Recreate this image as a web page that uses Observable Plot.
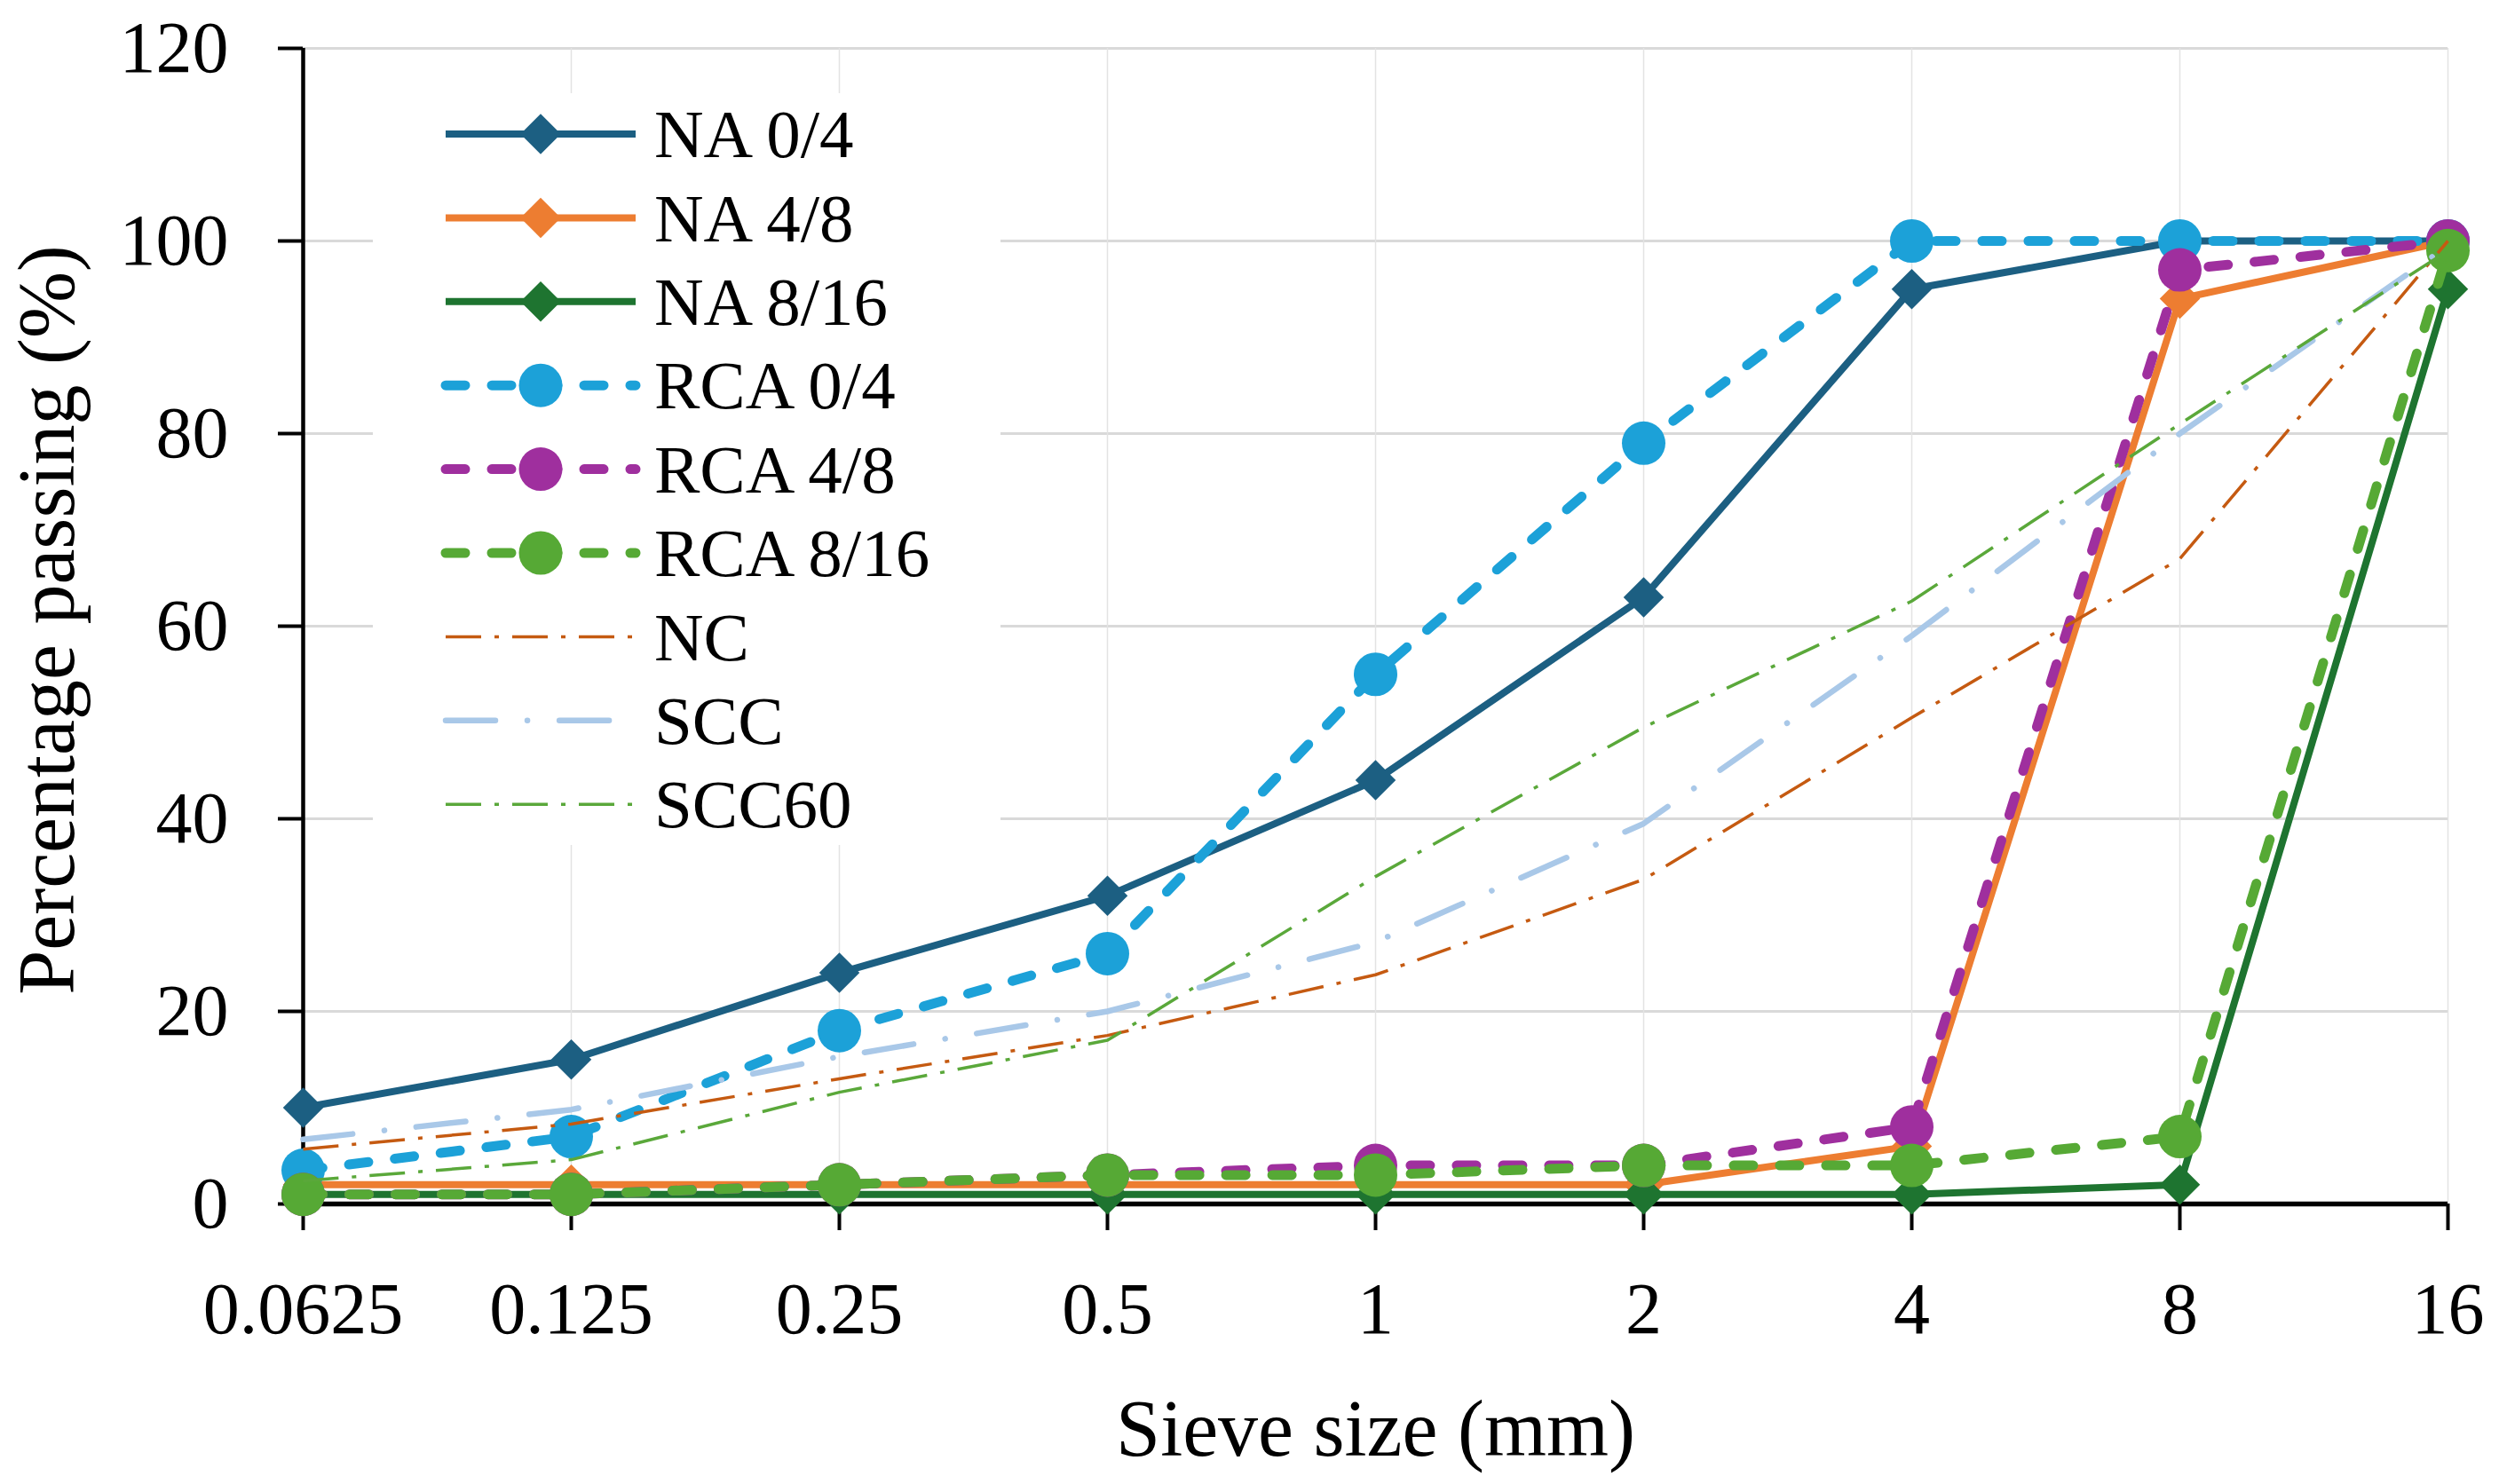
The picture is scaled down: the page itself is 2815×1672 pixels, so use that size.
<!DOCTYPE html>
<html><head><meta charset="utf-8">
<script src="https://cdn.jsdelivr.net/npm/d3@7"></script>
<script src="https://cdn.jsdelivr.net/npm/@observablehq/plot@0.6"></script>
<style>body{margin:0;background:#fff} #chart{width:2815px;height:1672px}</style>
</head><body><div id="chart"></div>
<script>
// ---- data ----
const sieveSizes = [0.0625, 0.125, 0.25, 0.5, 1, 2, 4, 8, 16];
const sieveLabels = ["0.0625", "0.125", "0.25", "0.5", "1", "2", "4", "8", "16"];
const yTicks = [0, 20, 40, 60, 80, 100, 120];
const seriesNames = ["NA 0/4", "NA 4/8", "NA 8/16", "RCA 0/4", "RCA 4/8", "RCA 8/16", "NC", "SCC", "SCC60"];
const na04   = [10, 15, 24, 32, 44, 63, 95, 100, 100];
const na48   = [2, 2, 2, 2, 2, 2, 6, 94, 100];
const na816  = [1, 1, 1, 1, 1, 1, 1, 2, 95];
const rca04  = [3.5, 7, 18, 26, 55, 79, 100, 100, 100];
const rca48  = [1, 1, 2, 3, 4, 4, 8, 97, 100];
const rca816 = [1, 1, 2, 3, 3, 4, 4, 7, 99];
const nc     = [5.7, 8.3, 13, 17.5, 23.8, 33.7, 50.5, 67, 100];
const scc    = [6.7, 9.8, 15.3, 20, 27.2, 39.5, 59, 80, 99.5];
const scc60  = [2.4, 4.6, 11.6, 17, 34, 49.5, 62.6, 81, 99];
const seriesValues = [na04, na48, na816, rca04, rca48, rca816, nc, scc, scc60];

// ---- styles ----
const styles = [
  {color: "#1c5f82", width: 8, dash: null, cap: "butt", symbol: "diamond2", r: 20.5},
  {color: "#ed7d31", width: 8, dash: null, cap: "butt", symbol: "diamond2", r: 20.5},
  {color: "#1e7430", width: 8, dash: null, cap: "butt", symbol: "diamond2", r: 20.5},
  {color: "#1ca1d8", width: 11, dash: "22 30", cap: "round", symbol: "circle", r: 24.5},
  {color: "#9f2f9e", width: 11, dash: "22 30", cap: "round", symbol: "circle", r: 24.5},
  {color: "#56a935", width: 11, dash: "22 30", cap: "round", symbol: "circle", r: 24.5},
  {color: "#c55a11", width: 3.5, dash: "40 15 5 15", cap: "butt", symbol: null},
  {color: "#a9c8e8", width: 6.5, dash: "56 36 0.1 36", cap: "round", symbol: null},
  {color: "#5aa83a", width: 3.5, dash: "40 15 5 15", cap: "butt", symbol: null}
];

const rows = seriesNames.flatMap((name, s) =>
  sieveSizes.map((size, i) => ({series: name, size, pass: seriesValues[s][i]})));

const FONT = "'Liberation Serif', 'Times New Roman', serif";

function legend() {
  const g = d3.create("svg:g");
  g.append("rect").attr("x", 420).attr("y", 105).attr("width", 707).attr("height", 847).attr("fill", "white");
  seriesNames.forEach((name, i) => {
    const st = styles[i];
    const y = 151 + i * 94.4;
    const ln = g.append("line").attr("x1", 502).attr("x2", 716).attr("y1", y).attr("y2", y)
      .attr("stroke", st.color).attr("stroke-width", st.width).attr("stroke-linecap", st.cap);
    if (st.dash) ln.attr("stroke-dasharray", st.dash);
    if (st.symbol) {
      const sym = st.symbol === "circle" ? d3.symbolCircle : d3.symbolDiamond2;
      g.append("path").attr("transform", `translate(609,${y})`)
        .attr("d", d3.symbol(sym, Math.PI * st.r * st.r)()).attr("fill", st.color);
    }
    g.append("text").attr("x", 737).attr("y", y).attr("dy", "0.34em")
      .attr("text-anchor", "start")
      .attr("font-family", FONT).attr("font-size", 77).attr("fill", "black").text(name);
  });
  return g.node();
}

const marks = [
  Plot.ruleY(yTicks.slice(1), {stroke: "#d9d9d9", strokeWidth: 3}),
  Plot.ruleX(sieveSizes.slice(1), {y1: 0, y2: 120, stroke: "#e3e3e3", strokeWidth: 1.5}),
  legend,
  Plot.axisY(yTicks, {tickSize: 28, tickPadding: 56, strokeWidth: 4, fontSize: 82, label: null}),
  Plot.axisX(sieveSizes, {tickSize: 30, tickPadding: 57, strokeWidth: 4, fontSize: 82, label: null,
    tickFormat: d => sieveLabels[sieveSizes.indexOf(d)]}),
  Plot.ruleX([sieveSizes[0]], {stroke: "black", strokeWidth: 4.5}),
  Plot.ruleY([0], {stroke: "black", strokeWidth: 5.5}),
  Plot.text(["Sieve size (mm)"], {frameAnchor: "bottom", dy: 255, fontSize: 90, lineAnchor: "middle", textAnchor: "middle", fill: "black"}),
  Plot.text(["Percentage passing (%)"], {frameAnchor: "left", dx: -287, dy: -7, rotate: -90, fontSize: 90, lineAnchor: "middle", textAnchor: "middle", fill: "black"})
];

seriesNames.forEach((name, s) => {
  const st = styles[s];
  marks.push(Plot.line(rows, {filter: d => d.series === name, x: "size", y: "pass",
    stroke: st.color, strokeWidth: st.width, strokeDasharray: st.dash || undefined,
    strokeLinecap: st.cap, strokeLinejoin: "round"}));
  if (st.symbol) {
    marks.push(Plot.dot(rows, {filter: d => d.series === name, x: "size", y: "pass",
      symbol: st.symbol, r: st.r, fill: st.color, stroke: "none"}));
  }
});

const chart = Plot.plot({
  width: 2815, height: 1672,
  marginLeft: 341, marginRight: 58, marginTop: 54, marginBottom: 316,
  style: {fontFamily: FONT, fontSize: "82px", color: "black", background: "white", overflow: "visible"},
  x: {type: "log", base: 2, domain: [0.0625, 16]},
  y: {domain: [0, 120]},
  marks
});
document.getElementById("chart").appendChild(chart);
</script>
</body></html>
